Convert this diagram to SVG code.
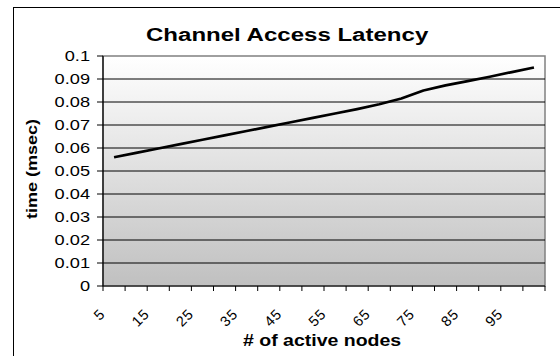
<svg xmlns="http://www.w3.org/2000/svg" width="560" height="356" viewBox="0 0 560 356">
<defs>
<linearGradient id="plotFill" x1="0" y1="0" x2="0" y2="1">
<stop offset="0" stop-color="#ffffff"/>
<stop offset="1" stop-color="#c0c0c0"/>
</linearGradient>
</defs>
<style>
.grid{stroke:#000;stroke-width:1}
.tick{stroke:#000;stroke-width:1}
.ylab{font-family:"Liberation Sans",Arial,sans-serif;font-size:14px;text-anchor:end;fill:#000}
.xlab{font-family:"Liberation Sans",Arial,sans-serif;font-size:14.5px;letter-spacing:0.8px;text-anchor:end;fill:#000}
.title{font-family:"Liberation Sans",Arial,sans-serif;font-weight:bold;fill:#000}
</style>
<rect x="0" y="0" width="560" height="356" fill="#fff"/>
<rect id="frame" x="13.5" y="7.5" width="560" height="360" fill="none" stroke="#000" stroke-width="1"/>
<g id="plot-area">
<rect x="103" y="56" width="442" height="230" fill="url(#plotFill)" stroke="#808080" stroke-width="1.5"/>
<g id="gridlines">
<line class="grid" x1="103" y1="79" x2="545" y2="79"/>
<line class="grid" x1="103" y1="102" x2="545" y2="102"/>
<line class="grid" x1="103" y1="125" x2="545" y2="125"/>
<line class="grid" x1="103" y1="148" x2="545" y2="148"/>
<line class="grid" x1="103" y1="171" x2="545" y2="171"/>
<line class="grid" x1="103" y1="194" x2="545" y2="194"/>
<line class="grid" x1="103" y1="217" x2="545" y2="217"/>
<line class="grid" x1="103" y1="240" x2="545" y2="240"/>
<line class="grid" x1="103" y1="263" x2="545" y2="263"/>
</g>
</g>
<g id="y-axis">
<line x1="103" y1="56" x2="103" y2="286" stroke="#000" stroke-width="1.2"/>
<g id="y-ticks">
<line class="tick" x1="97" y1="56" x2="103" y2="56"/>
<line class="tick" x1="97" y1="79" x2="103" y2="79"/>
<line class="tick" x1="97" y1="102" x2="103" y2="102"/>
<line class="tick" x1="97" y1="125" x2="103" y2="125"/>
<line class="tick" x1="97" y1="148" x2="103" y2="148"/>
<line class="tick" x1="97" y1="171" x2="103" y2="171"/>
<line class="tick" x1="97" y1="194" x2="103" y2="194"/>
<line class="tick" x1="97" y1="217" x2="103" y2="217"/>
<line class="tick" x1="97" y1="240" x2="103" y2="240"/>
<line class="tick" x1="97" y1="263" x2="103" y2="263"/>
<line class="tick" x1="97" y1="286" x2="103" y2="286"/>
</g>
<g id="y-labels">
<text class="ylab" transform="translate(90,61) scale(1.3,1)">0.1</text>
<text class="ylab" transform="translate(90,84) scale(1.3,1)">0.09</text>
<text class="ylab" transform="translate(90,107) scale(1.3,1)">0.08</text>
<text class="ylab" transform="translate(90,130) scale(1.3,1)">0.07</text>
<text class="ylab" transform="translate(90,153) scale(1.3,1)">0.06</text>
<text class="ylab" transform="translate(90,176) scale(1.3,1)">0.05</text>
<text class="ylab" transform="translate(90,199) scale(1.3,1)">0.04</text>
<text class="ylab" transform="translate(90,222) scale(1.3,1)">0.03</text>
<text class="ylab" transform="translate(90,245) scale(1.3,1)">0.02</text>
<text class="ylab" transform="translate(90,268) scale(1.3,1)">0.01</text>
<text class="ylab" transform="translate(90,291) scale(1.3,1)">0</text>
</g>
<text id="y-title" class="title" font-size="15" text-anchor="middle" transform="translate(37,169) rotate(-90) scale(1.2,1)">time (msec)</text>
</g>
<g id="x-axis">
<line x1="103" y1="286" x2="545" y2="286" stroke="#000" stroke-width="1.2"/>
<g id="x-ticks" class="tick">
<path d="M103 286v5M125.1 286v5M147.2 286v5M169.3 286v5M191.4 286v5M213.5 286v5M235.6 286v5M257.7 286v5M279.8 286v5M301.9 286v5M324 286v5M346.1 286v5M368.2 286v5M390.3 286v5M412.4 286v5M434.5 286v5M456.6 286v5M478.7 286v5M500.8 286v5M522.9 286v5M545 286v5" stroke="#000" stroke-width="1"/>
</g>
<g id="x-labels">
<text class="xlab" transform="translate(106,315) rotate(-45)">5</text>
<text class="xlab" transform="translate(150.25,315) rotate(-45)">15</text>
<text class="xlab" transform="translate(194.45,315) rotate(-45)">25</text>
<text class="xlab" transform="translate(238.65,315) rotate(-45)">35</text>
<text class="xlab" transform="translate(282.85,315) rotate(-45)">45</text>
<text class="xlab" transform="translate(327.05,315) rotate(-45)">55</text>
<text class="xlab" transform="translate(371.25,315) rotate(-45)">65</text>
<text class="xlab" transform="translate(415.45,315) rotate(-45)">75</text>
<text class="xlab" transform="translate(459.65,315) rotate(-45)">85</text>
<text class="xlab" transform="translate(503.85,315) rotate(-45)">95</text>
</g>
<text id="x-title" class="title" font-size="16" transform="translate(243,346) scale(1.22,1)"># of active nodes</text>
</g>
<text id="chart-title" class="title" font-size="18.5" transform="translate(146,41) scale(1.3,1)">Channel Access Latency</text>
<g id="connectors">
<polyline id="series" fill="none" stroke="#000" stroke-width="2.7" stroke-linejoin="round" points="114.05,157.2 136.15,152.83 158.25,148.46 180.35,144.09 202.45,139.72 224.55,135.35 246.65,130.98 268.75,126.61 290.85,122.24 312.95,117.87 335.05,113.5 357.15,109.13 379.25,104.3 401.35,98.55 423.45,90.5 445.55,85.44 467.65,81.07 489.75,76.7 511.85,72.1 533.95,67.5"/>
</g>
</svg>
